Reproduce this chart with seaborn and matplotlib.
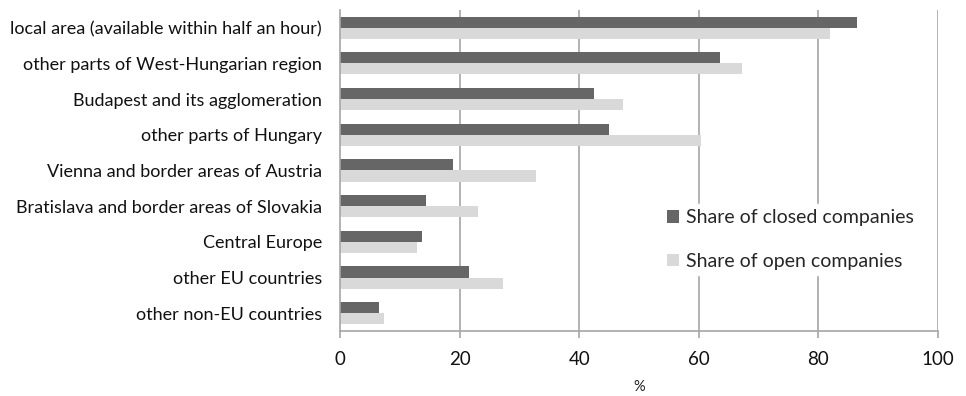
import matplotlib
matplotlib.use("Agg")
import matplotlib.pyplot as plt
import seaborn as sns
import pandas as pd

regions = [
    "local area (available within half an hour)",
    "other parts of West-Hungarian region",
    "Budapest and its agglomeration",
    "other parts of Hungary",
    "Vienna and border areas of Austria",
    "Bratislava and border areas of Slovakia",
    "Central Europe",
    "other EU countries",
    "other non-EU countries",
]
closed_share = [86.5, 63.5, 42.5, 45.0, 18.9, 14.3, 13.7, 21.6, 6.5]
open_share = [82.0, 67.2, 47.4, 60.3, 32.7, 23.1, 12.9, 27.3, 7.4]
series_names = ["Share of closed companies", "Share of open companies"]
x_ticks = [0, 20, 40, 60, 80, 100]

df = pd.DataFrame({
    "region": regions * 2,
    "share": closed_share + open_share,
    "series": [series_names[0]] * len(regions) + [series_names[1]] * len(regions),
})

sns.set_theme(style="white")
plt.rcParams["font.family"] = ["Lato", "DejaVu Sans"]

fig = plt.figure(figsize=(9.66, 3.96), dpi=100)
ax = fig.add_axes([0.352, 0.164, 0.619, 0.811])

grid_color = "#a6a6a6"
ax.set_axisbelow(True)
for v in x_ticks[1:]:
    ax.axvline(v, color=grid_color, lw=1.2, zorder=0)

sns.barplot(
    data=df, y="region", x="share", hue="series", orient="h",
    palette=["#666666", "#d9d9d9"], width=0.62, gap=0,
    linewidth=0, saturation=1, ax=ax, order=regions, hue_order=series_names,
)

ax.set_xlim(0, 100)
ax.set_xticks(x_ticks)
ax.set_xlabel("%", fontsize=10.5, labelpad=9, color="#222222")
ax.set_ylabel("")
ax.tick_params(axis="x", labelsize=13.5, length=5, width=1.2, color=grid_color,
               pad=9, labelcolor="#111111", bottom=True, direction="out")
ax.tick_params(axis="y", labelsize=13, length=0, pad=13, labelcolor="#111111")

for side in ["top", "right"]:
    ax.spines[side].set_visible(False)
for side in ["left", "bottom"]:
    ax.spines[side].set_color(grid_color)
    ax.spines[side].set_linewidth(1.2)

leg = ax.legend(
    loc="center left", bbox_to_anchor=(0.521, 0.285), frameon=True,
    fontsize=14, handlelength=0.6, handleheight=0.6, handletextpad=0.35,
    labelspacing=1.35, borderpad=0.3,
)
leg.get_frame().set_facecolor("white")
leg.get_frame().set_edgecolor("white")
leg.get_frame().set_alpha(1)

fig.savefig("out.png", dpi=100)
